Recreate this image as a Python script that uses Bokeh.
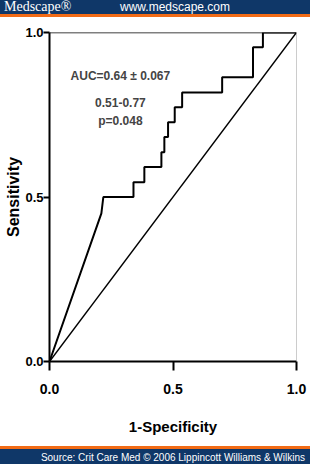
from bokeh.plotting import figure
from bokeh.models import Range1d, FixedTicker, Label, Span, NumeralTickFormatter, Div
from bokeh.layouts import column
from bokeh.embed import file_html
from bokeh.resources import INLINE

# ---- data ----
fpr = [0.0, 0.21, 0.218, 0.34, 0.34, 0.384, 0.384, 0.453, 0.453, 0.465, 0.465,
       0.48, 0.48, 0.507, 0.507, 0.537, 0.537, 0.699, 0.699, 0.824, 0.824,
       0.864, 0.864, 1.0]
tpr = [0.0, 0.45, 0.5, 0.5, 0.545, 0.545, 0.591, 0.591, 0.636, 0.636, 0.682,
       0.682, 0.727, 0.727, 0.773, 0.773, 0.818, 0.818, 0.864, 0.864, 0.955,
       0.955, 1.0, 1.0]
chance_x = [0.0, 1.0]
chance_y = [0.0, 1.0]
tick_values = [0.0, 0.5, 1.0]
tick_labels = ["0.0", "0.5", "1.0"]
stats_lines = ["AUC=0.64 \u00b1 0.067", "0.51-0.77", "p=0.048"]
x_title = "1-Specificity"
y_title = "Sensitivity"
header_brand = "Medscape\u00ae"
header_url = "www.medscape.com"
source_note = "Source: Crit Care Med \u00a9 2006 Lippincott Williams &amp; Wilkins"

NAVY = "#0f3768"
ORANGE = "#f26b16"
SANS = "Liberation Sans"
W = 310

# ---- header (HTML text) ----
header = Div(
    text=(
        f'<div style="position:relative;width:{W}px;height:14px;background:{NAVY};overflow:hidden;">'
        f'<span style="position:absolute;left:4px;top:0px;font-family:\'Liberation Serif\';'
        f'font-size:14px;line-height:14px;color:white;white-space:nowrap;">{header_brand}</span>'
        f'<span style="position:absolute;left:0px;top:1px;width:350px;text-align:center;'
        f'font-family:\'Liberation Sans\';font-size:12px;line-height:12px;color:white;'
        f'white-space:nowrap;">{header_url}</span></div>'
        f'<div style="width:{W}px;height:3px;background:{ORANGE};"></div>'
    ),
    width=W, height=17, margin=0,
)

# ---- main plot ----
p = figure(width=W, height=429, x_range=Range1d(0, 1), y_range=Range1d(0, 1),
           output_backend="svg", toolbar_location=None, title=None,
           min_border_left=49, min_border_right=14, min_border_top=15,
           min_border_bottom=85)
p.background_fill_color = "white"
p.border_fill_color = "white"
p.outline_line_color = None
p.grid.visible = False

for ax in (p.xaxis[0], p.yaxis[0]):
    ax.ticker = FixedTicker(ticks=tick_values)
    ax.formatter = NumeralTickFormatter(format="0.0")
    ax.major_label_overrides = dict(zip(tick_values, tick_labels))
    ax.axis_line_width = 2
    ax.axis_line_color = "black"
    ax.major_tick_line_width = 2
    ax.major_tick_line_color = "black"
    ax.major_tick_in = 0
    ax.minor_tick_line_color = None
    ax.major_label_text_font = SANS
    ax.major_label_text_font_style = "bold"
    ax.major_label_text_color = "black"
    ax.axis_label_text_font = SANS
    ax.axis_label_text_font_style = "bold"
    ax.axis_label_text_color = "black"
p.xaxis.major_label_text_font_size = "14px"
p.yaxis.major_label_text_font_size = "13px"
p.xaxis.major_tick_out = 9
p.yaxis.major_tick_out = 6
p.xaxis.major_label_standoff = 13
p.yaxis.major_label_standoff = 0

p.xaxis.axis_label = x_title
p.xaxis.axis_label_text_font_size = "15px"
p.xaxis.axis_label_standoff = 21
p.yaxis.axis_label = y_title
p.yaxis.axis_label_text_font_size = "16px"
p.yaxis.axis_label_standoff = 0

p.add_layout(Span(location=1, dimension="width", line_color="black", line_width=1.5))
p.add_layout(Span(location=1, dimension="height", line_color="#9a9a9a", line_width=1))

p.line(chance_x, chance_y, line_color="black", line_width=1.4)
p.line(fpr, tpr, line_color="black", line_width=2)

for txt, yy in zip(stats_lines, [0.867, 0.788, 0.73]):
    p.add_layout(Label(x=0.287, y=yy, text=txt, text_font=SANS,
                       text_font_style="bold", text_font_size="12px",
                       text_align="center", text_baseline="middle"))

# ---- footer (HTML text) ----
footer = Div(
    text=(
        f'<div style="width:{W}px;height:3px;background:{ORANGE};"></div>'
        f'<div style="position:relative;width:{W}px;height:15px;background:{NAVY};overflow:hidden;">'
        f'<span style="position:absolute;right:5px;top:4px;font-family:\'Liberation Sans\';'
        f'font-size:10px;line-height:10px;color:white;white-space:nowrap;">{source_note}</span></div>'
    ),
    width=W, height=18, margin=0,
)

layout = column(header, p, footer, spacing=0)
open("out.html", "w").write(file_html(layout, INLINE))
